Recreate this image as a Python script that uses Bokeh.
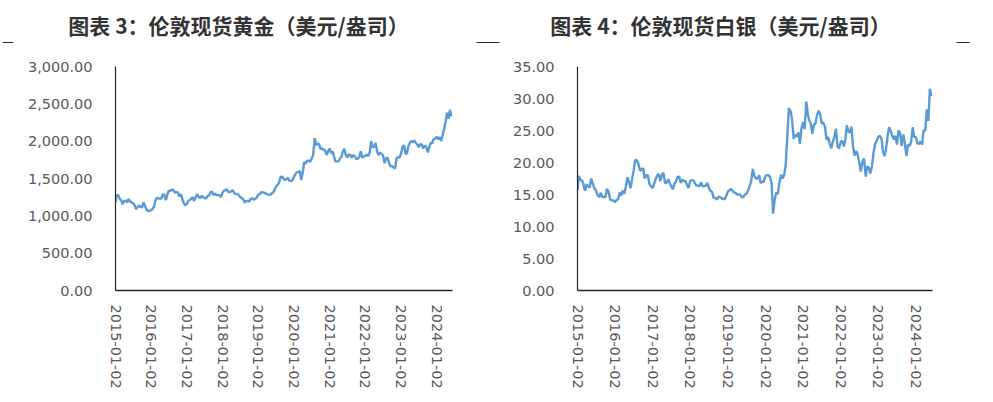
import pandas as pd
from datetime import datetime
from bokeh.plotting import figure
from bokeh.layouts import row, column
from bokeh.models import (Range1d, FixedTicker, NumeralTickFormatter,
                          DatetimeTickFormatter)
from bokeh.core.properties import value
from bokeh.embed import file_html
from bokeh.resources import INLINE

# ---------------- data ----------------
tick_labels = ["2015-01-02", "2016-01-02", "2017-01-02", "2018-01-02", "2019-01-02",
               "2020-01-02", "2021-01-02", "2022-01-02", "2023-01-02", "2024-01-02"]

# semi-monthly sampling dates (1st and 15th of each month)
dates = list(pd.date_range("2015-01-01", "2024-06-01", freq="SMS"))
dates[0] = pd.Timestamp("2015-01-02")

gold = [
    1186, 1277, 1275, 1225, 1210, 1155, 1200, 1203, 1180, 1225, 1190, 1180,
    1170, 1145, 1090, 1117, 1140, 1117, 1114, 1180, 1135, 1084, 1065, 1065,
    1075, 1090, 1128, 1210, 1240, 1233, 1232, 1232, 1290, 1280, 1212, 1285,
    1340, 1330, 1350, 1345, 1310, 1320, 1315, 1260, 1290, 1225, 1170, 1140,
    1160, 1200, 1210, 1233, 1250, 1200, 1250, 1288, 1255, 1235, 1265, 1255,
    1240, 1230, 1268, 1270, 1320, 1322, 1275, 1300, 1275, 1280, 1275, 1250,
    1310, 1338, 1345, 1355, 1317, 1318, 1330, 1345, 1305, 1290, 1295, 1278,
    1250, 1240, 1220, 1175, 1200, 1200, 1190, 1228, 1235, 1215, 1230, 1240,
    1285, 1290, 1320, 1315, 1310, 1302, 1290, 1285, 1280, 1297, 1310, 1345,
    1390, 1410, 1440, 1515, 1530, 1500, 1480, 1490, 1510, 1468, 1465, 1475,
    1520, 1555, 1585, 1585, 1600, 1480, 1590, 1720, 1700, 1740, 1740, 1725,
    1770, 1810, 2040, 1945, 1970, 1955, 1890, 1905, 1880, 1880, 1815, 1860,
    1900, 1840, 1860, 1790, 1725, 1730, 1730, 1765, 1790, 1860, 1900, 1810,
    1780, 1825, 1815, 1780, 1815, 1795, 1760, 1765, 1795, 1865, 1780, 1795,
    1805, 1820, 1800, 1855, 2000, 1920, 1925, 1975, 1865, 1815, 1845, 1830,
    1810, 1705, 1770, 1780, 1705, 1665, 1665, 1650, 1635, 1770, 1785, 1780,
    1830, 1920, 1945, 1835, 1830, 1925, 1980, 2000, 1985, 2010, 1975, 1955,
    1920, 1960, 1955, 1905, 1940, 1925, 1850, 1920, 1980, 1970, 2030, 2035,
    2060, 2025, 2055, 2000, 2080, 2160, 2260, 2380, 2300, 2420, 2330,
]

silver = [
    15.7, 17.9, 17.2, 17.2, 16.6, 15.6, 16.6, 16.3, 16.1, 17.5, 16.6, 16.0,
    15.6, 14.9, 14.6, 15.3, 14.6, 14.6, 14.6, 15.9, 15.4, 14.2, 14.1, 14.1,
    13.8, 14.1, 14.3, 15.3, 14.8, 15.6, 15.1, 16.2, 17.7, 17.0, 16.0, 17.4,
    18.8, 20.4, 20.3, 19.8, 18.7, 18.9, 19.1, 17.5, 18.0, 18.0, 16.6, 16.3,
    16.0, 16.7, 17.5, 18.0, 18.2, 17.1, 18.1, 18.4, 16.8, 16.8, 17.4, 16.8,
    16.3, 15.8, 16.7, 17.0, 17.8, 17.8, 16.8, 17.3, 17.1, 17.1, 16.5, 16.0,
    17.2, 17.2, 17.2, 16.8, 16.4, 16.4, 16.3, 16.9, 16.3, 16.3, 16.4, 16.8,
    16.0, 15.6, 15.4, 14.5, 14.5, 14.2, 14.6, 14.6, 14.4, 14.3, 14.3, 14.7,
    15.5, 15.6, 15.9, 15.6, 15.3, 15.3, 15.0, 15.0, 15.0, 14.6, 14.6, 15.0,
    15.1, 15.6, 16.3, 17.1, 19.0, 17.9, 17.5, 17.5, 18.0, 16.8, 17.0, 17.0,
    17.9, 18.0, 18.0, 17.7, 16.7, 12.0, 14.3, 15.3, 15.1, 16.8, 18.1, 17.5,
    18.1, 19.5, 24.2, 28.5, 28.0, 26.8, 23.7, 24.3, 24.1, 24.7, 22.9, 25.3,
    26.3, 25.2, 29.5, 27.5, 26.6, 26.1, 24.5, 25.9, 26.1, 27.4, 28.1, 27.5,
    26.1, 26.2, 25.6, 23.6, 24.0, 23.0, 22.2, 23.2, 24.0, 25.3, 22.5, 22.2,
    23.2, 23.4, 22.5, 23.5, 25.8, 25.0, 24.6, 25.6, 22.4, 21.1, 21.8, 21.2,
    19.9, 18.6, 20.2, 20.6, 17.8, 19.4, 19.2, 18.3, 19.5, 21.5, 22.9, 23.3,
    24.0, 24.2, 23.7, 21.8, 21.0, 21.9, 24.1, 25.5, 25.0, 24.2, 23.6, 24.2,
    22.8, 25.0, 24.6, 22.6, 24.4, 23.0, 21.0, 22.8, 22.6, 23.2, 25.5, 24.0,
    24.0, 23.0, 22.9, 23.3, 22.8, 25.0, 25.0, 28.3, 26.5, 31.5, 30.4,
]

gold_ticks = [0, 500, 1000, 1500, 2000, 2500, 3000]
silver_ticks = [0, 5, 10, 15, 20, 25, 30, 35]

titles = ["图表 3：伦敦现货黄金（美元/盎司）", "图表 4：伦敦现货白银（美元/盎司）"]

# ---------------- styling ----------------
LINE_COLOR = "#5B9BD5"
TICK_FONT = "DejaVu Sans"
TICK_SIZE = "14.5px"
TICK_COLOR = "#595959"
X_START = datetime(2015, 1, 2)
X_END = datetime(2024, 6, 10)
x_tick_ms = [pd.Timestamp(t).value // 10**6 for t in tick_labels]
fmt = "%Y-%m-%d"
TITLE_H = 50
W1, W2 = 493, 495
WT = W1 + W2

# header strip (titles + small decorative rules), in page pixels
header = figure(width=WT, height=TITLE_H, output_backend="svg",
                toolbar_location=None, x_range=Range1d(0, WT),
                y_range=Range1d(TITLE_H, 0), min_border=0,
                min_border_left=0, min_border_right=0,
                min_border_top=0, min_border_bottom=0)
header.axis.visible = False
header.grid.visible = False
header.outline_line_color = None
header.text(x=[238, 720], y=[24, 24], text=titles, text_align="center",
            text_baseline="middle", text_font=value("Noto Sans CJK SC"),
            text_font_style="bold", text_font_size="21px", text_color="#333333")
header.segment(x0=[2, 476, 956], y0=[42, 42, 42], x1=[13, 499, 969], y1=[42, 42, 42],
               line_color="#262626", line_width=1.2)


def make_panel(width, bl, br, yvals, yticks, ymax, yfmt):
    p = figure(width=width, height=400 - TITLE_H, x_axis_type="datetime",
               output_backend="svg", toolbar_location=None,
               min_border_left=bl, min_border_right=br,
               min_border_top=66 - TITLE_H, min_border_bottom=110,
               x_range=Range1d(X_START, X_END), y_range=Range1d(0, ymax))
    p.outline_line_color = None
    p.xgrid.visible = False
    p.ygrid.visible = False

    p.line(dates, yvals, line_color=LINE_COLOR, line_width=2.4)

    xa = p.xaxis[0]
    xa.ticker = FixedTicker(ticks=x_tick_ms)
    xa.formatter = DatetimeTickFormatter(
        milliseconds=fmt, seconds=fmt, minsec=fmt, minutes=fmt, hourmin=fmt,
        hours=fmt, days=fmt, months=fmt, years=fmt)
    xa.major_label_orientation = "vertical"
    xa.major_tick_line_color = None
    xa.minor_tick_line_color = None
    xa.major_tick_out = 0
    xa.major_label_standoff = 14
    xa.axis_line_color = "#262626"
    xa.axis_line_width = 1.6
    xa.major_label_text_font = TICK_FONT
    xa.major_label_text_font_size = TICK_SIZE
    xa.major_label_text_color = TICK_COLOR

    ya = p.yaxis[0]
    ya.ticker = FixedTicker(ticks=yticks)
    ya.formatter = NumeralTickFormatter(format=yfmt)
    ya.major_tick_line_color = None
    ya.minor_tick_line_color = None
    ya.major_tick_out = 0
    ya.major_label_standoff = 23
    ya.axis_line_color = "#262626"
    ya.axis_line_width = 1.2
    ya.major_label_text_font = TICK_FONT
    ya.major_label_text_font_size = TICK_SIZE
    ya.major_label_text_color = TICK_COLOR
    return p


p1 = make_panel(W1, 115, W1 - 452, gold, gold_ticks, 3000, "0,0.00")
p2 = make_panel(W2, 577 - W1, W2 - (932 - W1), silver, silver_ticks, 35, "0.00")

layout = column(header, row(p1, p2))
open("out.html", "w").write(file_html(layout, INLINE))
